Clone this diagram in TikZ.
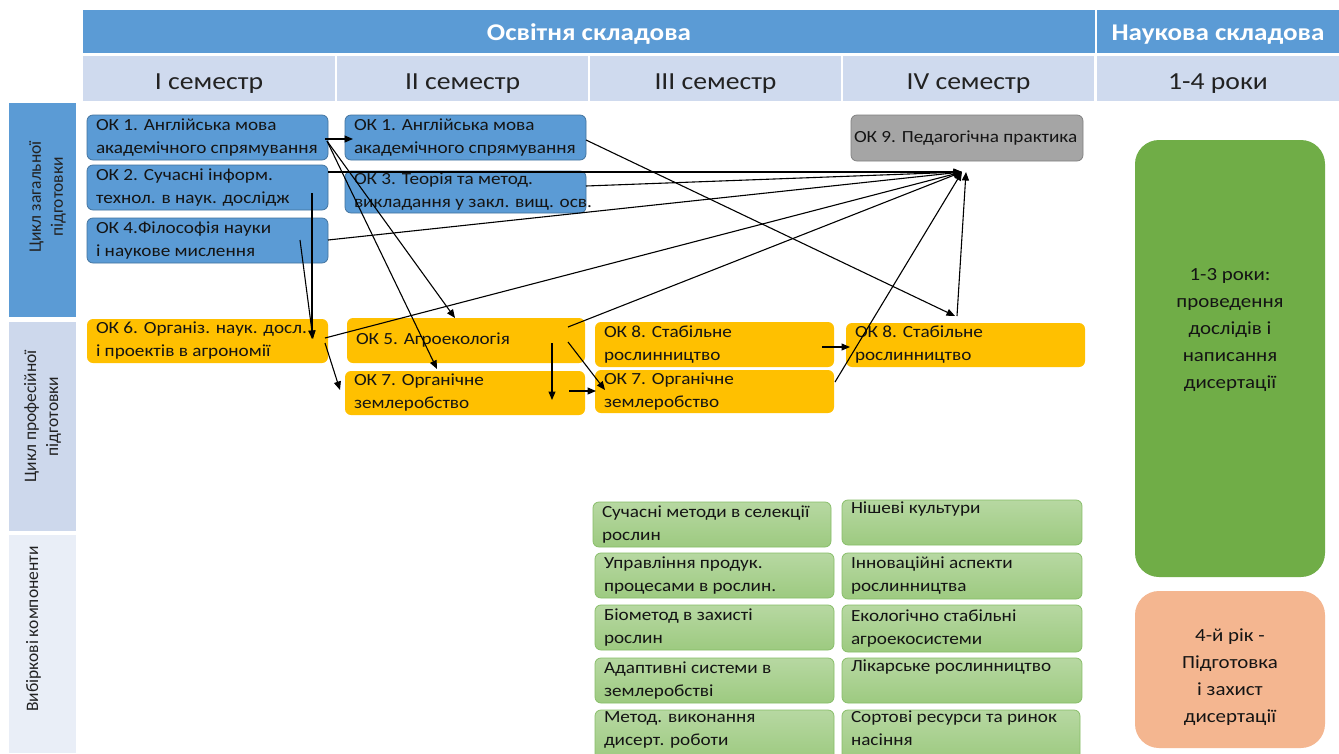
\documentclass[tikz,border=0pt]{standalone}
\usepackage{fontspec}
\setmainfont{Carlito}
\newfontfamily\wfont{Carlito}[FakeStretch=1.13]
\usetikzlibrary{arrows.meta,calc}
\definecolor{hblue}{HTML}{5B9BD5}
\definecolor{semfill}{HTML}{CFDAEE}
\definecolor{left2}{HTML}{CDD8EC}
\definecolor{left3}{HTML}{E9EEF7}
\definecolor{cblue}{HTML}{5B9BD5}
\definecolor{cblueb}{HTML}{41719C}
\definecolor{corange}{HTML}{FFC000}
\definecolor{cgrey}{HTML}{A5A5A5}
\definecolor{cgreyb}{HTML}{7F7F7F}
\definecolor{elt}{HTML}{B7D8A2}
\definecolor{elb}{HTML}{9DCA80}
\definecolor{elbd}{HTML}{86BD66}
\definecolor{bgreen}{HTML}{70AD47}
\definecolor{peach}{HTML}{F4B690}
\definecolor{txt}{HTML}{141414}
\definecolor{txtb}{HTML}{222222}
\newcommand\mkbox[7]{%
  \node[#1, minimum width=#5, minimum height=#6] (#2) at (#3,#4) {};
  \node[lbl] (#2t) at ([xshift=9pt]#2.west) {#7};}
\newcommand\lowr[2]{\raisebox{-#1}[0pt][0pt]{#2}}
\begin{document}
\begin{tikzpicture}[x=1pt,y=-1pt,
  every node/.style={inner sep=0pt, outer sep=0pt},
  hdr/.style={fill=hblue, minimum height=43, text=white,
    font=\wfont\fontsize{24}{27}\selectfont\bfseries},
  sem/.style={fill=semfill, minimum height=45, text=txtb,
    font=\wfont\fontsize{24.5}{28}\selectfont},
  side/.style={rotate=90, minimum height=67},
  sidet/.style={rotate=90, align=center, text=txtb,
    font=\fontsize{17.5}{22}\selectfont},
  crs/.style={anchor=north west, rounded corners=6pt, line width=0.75pt},
  bluebx/.style={crs, fill=cblue, draw=cblueb},
  orbx/.style={crs, fill=corange},
  greybx/.style={crs, fill=cgrey, draw=cgreyb},
  elbx/.style={crs, top color=elt, bottom color=elb, draw=elbd},
  lbl/.style={anchor=west, align=left, text=txt,
    font=\wfont\fontsize{17}{23}\selectfont},
  big/.style={anchor=north west, rounded corners=24pt, minimum width=190},
  bigt/.style={align=center, text=txt, font=\wfont\fontsize{18.5}{27}\selectfont},
  arr/.style={draw=black, line width=1.1pt, -{Triangle[length=8.5pt,width=7pt]}}
]
\useasboundingbox (0,0) rectangle (1339,753);
\fill[white] (0,0) rectangle (1339,753);

% header rows
\node[hdr, minimum width=1012] (edu) at (589,31.5) {\lowr{9pt}{Освітня складова}};
\node[hdr, minimum width=242] (sci) at (1218,31.5) {\lowr{9pt}{Наукова складова}};
\node[sem, minimum width=252] (s1) at (209,78.5) {\lowr{10.5pt}{I семестр}};
\node[sem, minimum width=251] (s2) at (462.5,78.5) {\lowr{10.5pt}{II семестр}};
\node[sem, minimum width=251] (s3) at (715.5,78.5) {\lowr{10.5pt}{III семестр}};
\node[sem, minimum width=251] (s4) at (968.5,78.5) {\lowr{10.5pt}{IV семестр}};
\node[sem, minimum width=242] (yrs) at (1218,78.5) {\lowr{10.5pt}{1-4 роки}};

% side column
\node[side, fill=hblue, minimum width=214] (zag) at (42.5,210) {};
\node[sidet] (zagt) at ($(zag.center)+(5,-13)$) {Цикл загальної\\підготовки};
\node[side, fill=left2, minimum width=209] (prof) at (42.5,426.5) {};
\node[sidet] (proft) at ($(prof.center)+(0,-10)$) {Цикл професійної\\підготовки};
\node[side, fill=left3, minimum width=218] (vyb) at (42.5,644) {};
\node[sidet] (vybt) at ($(vyb.center)+(-9,-15)$) {Вибіркові компоненти};

% semester I
\mkbox{bluebx}{oka}{87}{115}{241}{45}{ОК 1. Англійська мова\\академічного спрямування}
\mkbox{bluebx}{okb}{87}{165}{241}{45}{ОК 2. Сучасні інформ.\\технол. в наук. дослідж}
\mkbox{bluebx}{okd}{87}{218}{241}{45}{ОК 4.Філософія науки\\і наукове мислення}
\mkbox{orbx}{okf}{87}{319}{241}{44}{ОК 6. Організ. наук. досл.\\і проектів в агрономії}
% semester II
\mkbox{bluebx}{oka2}{345}{115}{241}{45}{ОК 1. Англійська мова\\академічного спрямування}
\mkbox{bluebx}{okc}{345}{171}{241}{42}{ОК 3. Теорія та метод.\\викладання у закл. вищ. осв.}
\mkbox{orbx}{oke}{347}{318}{238}{45}{ОК 5. Агроекологія}
\mkbox{orbx}{okg}{345}{371}{240}{44}{ОК 7. Органічне\\землеробство}
% semester III
\mkbox{orbx}{okh}{595}{322}{239}{45}{ОК 8. Стабільне\\рослинництво}
\mkbox{orbx}{okg2}{595}{370}{239}{43}{ОК 7. Органічне\\землеробство}
% semester IV
\node[greybx, minimum width=232, minimum height=46] (oki) at (851,115) {};
\node[lbl] (okit) at ([xshift=3pt]oki.west) {ОК 9. Педагогічна практика};
\mkbox{orbx}{okh2}{846}{323}{239}{44}{ОК 8. Стабільне\\рослинництво}

% electives
\mkbox{elbx}{ea}{593}{502}{238}{45}{Сучасні методи в селекції\\рослин}
\mkbox{elbx}{eb}{595}{553}{239}{45}{Управління продук.\\процесами в рослин.}
\mkbox{elbx}{ec}{595}{605}{239}{45}{Біометод в захисті\\рослин}
\mkbox{elbx}{ed}{595}{658}{239}{45}{Адаптивні системи в\\землеробстві}
\node[elbx, minimum width=239, minimum height=50] (ee) at (595,710) {};
\node[lbl] (eet) at ([xshift=9pt]ee.north west) [anchor=north west, yshift=-2pt] {Метод. виконання\\дисерт. роботи};
\mkbox{elbx}{fa}{842}{500}{240}{45}{Нішеві культури\\\strut}
\mkbox{elbx}{fb}{842}{553}{240}{46}{Інноваційні аспекти\\рослинництва}
\mkbox{elbx}{fc}{842}{605}{240}{47}{Екологічно стабільні\\агроекосистеми}
\mkbox{elbx}{fd}{842}{658}{240}{45}{Лікарське рослинництво\\\strut}
\node[elbx, minimum width=238, minimum height=50] (fe) at (842,710) {};
\node[lbl] (fet) at ([xshift=9pt]fe.north west) [anchor=north west, yshift=-1pt] {Сортові ресурси та ринок\\насіння};

% scientific component
\node[big, fill=bgreen, minimum height=437] (res) at (1135,140) {};
\node[bigt] (rest) at ($(res.center)+(0,-28)$) {1-3 роки:\\проведення\\дослідів і\\написання\\дисертації};
\node[big, fill=peach, minimum height=157] (def) at (1135,591) {};
\node[bigt] (deft) at ($(def.center)+(0,8)$) {4-й рік -\\Підготовка\\і захист\\дисертації};

% connector end points
\coordinate (conv) at (962,172);
\coordinate (a1s) at (325,139);  \coordinate (a1e) at (353,139);
\coordinate (a2s) at (327,141);  \coordinate (a2e) at (455,318);
\coordinate (a3e) at (437,369);
\coordinate (a4s) at (328,172);
\coordinate (a5s) at (312,193);  \coordinate (a5e) at (312,339);
\coordinate (a6s) at (300,240);  \coordinate (a6e) at (313,339);
\coordinate (a7s) at (328,240);
\coordinate (a8s) at (586,186);
\coordinate (a9s) at (586,140);  \coordinate (a9e) at (955,316);
\coordinate (a10s) at (325,338);
\coordinate (a11s) at (325,343); \coordinate (a11e) at (340,390);
\coordinate (a12s) at (568,327);
\coordinate (a13s) at (552,343); \coordinate (a13e) at (552,400);
\coordinate (a14s) at (569,391); \coordinate (a14e) at (596,391);
\coordinate (a15s) at (568,342); \coordinate (a15e) at (605,390);
\coordinate (a16s) at (822,347); \coordinate (a16e) at (850,347);
\coordinate (a17s) at (835,382);
\coordinate (a18s) at (957,316); \coordinate (a18e) at (966,172);

\draw[arr] (a1s) -- (a1e);
\draw[arr] (a2s) -- (a2e);
\draw[arr] (a2s) -- (a3e);
\draw[arr] (a4s) -- (conv);
\draw[arr] (a5s) -- (a5e);
\draw[arr] (a6s) -- (a6e);
\draw[arr] (a7s) -- (conv);
\draw[arr] (a8s) -- (conv);
\draw[arr] (a9s) -- (a9e);
\draw[arr] (a10s) -- (conv);
\draw[arr] (a11s) -- (a11e);
\draw[arr] (a12s) -- (conv);
\draw[arr] (a13s) -- (a13e);
\draw[arr] (a14s) -- (a14e);
\draw[arr] (a15s) -- (a15e);
\draw[arr] (a16s) -- (a16e);
\draw[arr] (a17s) -- (conv);
\draw[arr] (a18s) -- (a18e);
\end{tikzpicture}
\end{document}
